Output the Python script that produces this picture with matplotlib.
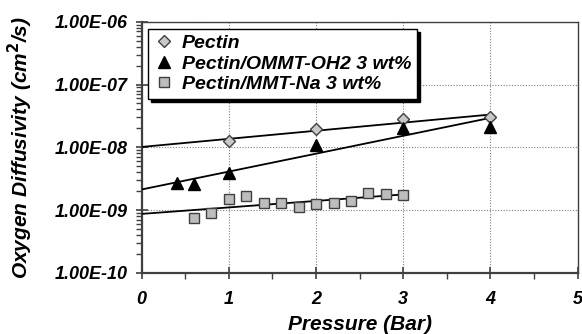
import numpy as np
import matplotlib
matplotlib.use("Agg")
import matplotlib.pyplot as plt
from matplotlib.ticker import LogLocator, FixedLocator, NullFormatter, FuncFormatter

plt.rcParams["font.family"] = ["Liberation Sans", "DejaVu Sans"]

# Data
pectin_p = [1, 2, 3, 4]
pectin_d = [1.26e-8, 1.94e-8, 2.8e-8, 3.0e-8]

ommt_p = [0.4, 0.6, 1.0, 2.0, 3.0, 4.0]
ommt_d = [2.7e-9, 2.6e-9, 3.9e-9, 1.09e-8, 2.0e-8, 2.14e-8]

mmt_p = [0.6, 0.8, 1.0, 1.2, 1.4, 1.6, 1.8, 2.0, 2.2, 2.4, 2.6, 2.8, 3.0]
mmt_d = [7.6e-10, 8.9e-10, 1.5e-9, 1.69e-9, 1.31e-9, 1.31e-9, 1.13e-9,
         1.23e-9, 1.28e-9, 1.41e-9, 1.85e-9, 1.78e-9, 1.75e-9]

labels = ["Pectin", "Pectin/OMMT-OH2 3 wt%", "Pectin/MMT-Na 3 wt%"]


def exp_trend(p, d, x_end):
    # exponential trendline, as a spreadsheet would draw it
    k, b = np.polyfit(p, np.log10(d), 1)
    xs = np.linspace(0, x_end, 50)
    return xs, 10 ** (k * xs + b)


fig = plt.figure(figsize=(5.82, 3.34), dpi=100)
ax = fig.add_axes([0.2435, 0.183, 0.749, 0.752])

frame = "#404040"
for xs, ys in [exp_trend(pectin_p, pectin_d, 4),
               exp_trend(ommt_p, ommt_d, 4),
               exp_trend(mmt_p, mmt_d, 3)]:
    ax.plot(xs, ys, color="black", lw=1.3, zorder=3)

ax.plot(pectin_p, pectin_d, ls="none", marker="D", ms=6.5, mfc="#c8c8c8",
        mec="#404040", mew=1.0, label=labels[0], zorder=4)
ax.plot(ommt_p, ommt_d, ls="none", marker="^", ms=8.5, mfc="black",
        mec="black", label=labels[1], zorder=4)
ax.plot(mmt_p, mmt_d, ls="none", marker="s", ms=7.5, mfc="#bdbdbd",
        mec="#404040", mew=1.0, label=labels[2], zorder=4)

ax.set_yscale("log")
ax.set_xlim(0, 5)
ax.set_ylim(1e-10, 1e-6)

ax.xaxis.set_major_locator(FixedLocator([0, 1, 2, 3, 4, 5]))
ax.xaxis.set_minor_locator(FixedLocator([0.5, 1.5, 2.5, 3.5, 4.5]))
ax.yaxis.set_major_locator(LogLocator(base=10, numticks=10))
ax.yaxis.set_minor_locator(LogLocator(base=10, subs=np.arange(2, 10), numticks=20))
ax.yaxis.set_minor_formatter(NullFormatter())
ax.yaxis.set_major_formatter(FuncFormatter(lambda v, pos: f"{v:.2E}"))

ax.tick_params(axis="both", which="major", direction="inout", length=8,
               width=1.2, color=frame, labelsize=13, pad=6)
ax.tick_params(axis="both", which="minor", direction="out", length=4,
               width=1.0, color=frame)
ax.tick_params(axis="x", which="major", pad=9)
for lab in ax.get_xticklabels() + ax.get_yticklabels():
    lab.set_fontweight("bold")
    lab.set_fontstyle("italic")

ax.grid(True, which="major", ls=(0, (1, 1.5)), color="#808080", lw=0.8)
ax.set_axisbelow(True)

for s in ["left", "bottom"]:
    ax.spines[s].set_color(frame)
    ax.spines[s].set_linewidth(1.6)
for s in ["top", "right"]:
    ax.spines[s].set_color(frame)
    ax.spines[s].set_linewidth(1.0)

ax.set_xlabel("Pressure (Bar)", fontsize=15, fontweight="bold",
              fontstyle="italic", labelpad=5)
ax.set_ylabel("Oxygen Diffusivity (cm$^{\\mathbf{2}}$/s)", fontsize=15,
              fontweight="bold", fontstyle="italic")
ax.yaxis.set_label_coords(-0.245, 0.5)

leg = ax.legend(loc="upper left", bbox_to_anchor=(0.0145, 0.972),
                borderaxespad=0, fancybox=False,
                framealpha=1, edgecolor="black", handletextpad=0.45,
                borderpad=0.3, labelspacing=0.15, handlelength=1.0,
                prop={"weight": "bold", "style": "italic", "size": 14},
                shadow={"color": "black", "alpha": 1})
leg.get_frame().set_linewidth(1.0)
leg.legend_handles[0].set_markersize(6)
leg.legend_handles[1].set_markersize(8)
leg.legend_handles[2].set_markersize(7)

fig.savefig("out.png", dpi=100)
